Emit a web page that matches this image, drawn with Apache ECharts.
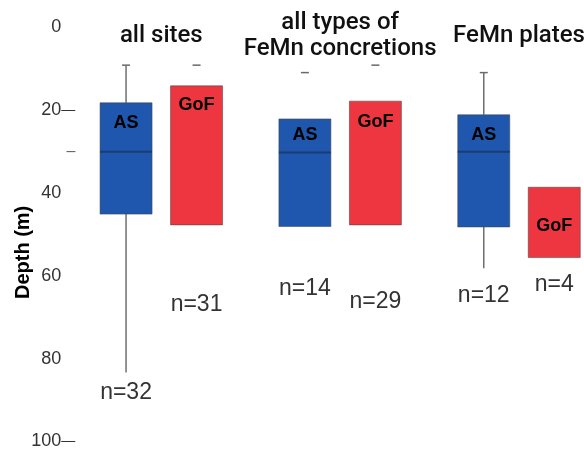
<!DOCTYPE html>
<html><head><meta charset="utf-8">
<script src="https://cdn.jsdelivr.net/npm/echarts@6/dist/echarts.min.js"></script>
<style>html,body{margin:0;padding:0;background:#fff}#c{width:584px;height:451px}</style>
</head><body><div id="c"></div>
<script>
// ---- data ----
const groups = ['all sites', 'all types of\nFeMn concretions', 'FeMn plates'];
const asQ1 = [18.2, 22.1, 21.1];
const asMedian = [30.0, 30.2, 30.0];
const asQ3 = [45.1, 48.1, 48.2];
const asWhiskerTop = [9.1, null, 10.9];
const asWhiskerBottom = [83.4, null, 58.2];
const asCap = [9.1, 10.9, 10.9];
const asN = [32, 14, 12];
const gofQ1 = [14.1, 17.8, 38.6];
const gofMedian = [null, null, null];
const gofQ3 = [47.7, 47.7, 55.6];
const gofWhiskerTop = [null, null, null];
const gofWhiskerBottom = [null, null, null];
const gofCap = [9.1, 9.1, null];
const gofN = [31, 29, 4];
const yTickLabels = ['0', '', '20', '', '40', '', '60', '', '80', '', '100'];
const yTickStep = 10;
const yDashedTicks = [20, 100];
const yMinorTicks = [30];

// ---- layout / style ----
const OFFSET = 35.25, BOXW = 52;
const asLabelDy = [20, 16, 20], gofLabelDy = [19, 21, 39];
const asNDy = [20, 62, 27], gofNDy = [80, 77, 27];
const BLUE = '#1e57ad', RED = '#ee3641';

function rows(q1, med, q3, wt, wb, cap, n) {
  return q1.map((v, i) => [i, v, med[i] == null ? '-' : med[i], q3[i],
    wt[i] == null ? '-' : wt[i], wb[i] == null ? '-' : wb[i], cap[i] == null ? '-' : cap[i], n[i]]);
}

function render(name, color, dx, labelDy, nDy) {
  return function (params, api) {
    const i = api.value(0);
    const cx = api.coord([i, 0])[0] + dx;
    const Y = v => api.coord([i, v])[1];
    const q1 = Y(api.value(1)), q3 = Y(api.value(3));
    const med = api.value(2), wt = api.value(4), wb = api.value(5), cap = api.value(6);
    const ch = [];
    const ln = (x1, y1, x2, y2, c, w) => ch.push({type: 'line', shape: {x1, y1, x2, y2}, style: {stroke: c, lineWidth: w}});
    let lowest = q3;
    if (!isNaN(wt)) ln(cx, Y(wt), cx, q1, '#6f6f6f', 1.5);
    if (!isNaN(wb)) { ln(cx, q3, cx, Y(wb), '#6f6f6f', 1.5); lowest = Y(wb); }
    if (!isNaN(cap)) ln(cx - 4, Y(cap), cx + 4, Y(cap), '#6a6a6a', 1.5);
    ch.push({type: 'rect', shape: {x: cx - BOXW / 2, y: q1, width: BOXW, height: q3 - q1},
      style: {fill: color, stroke: 'rgba(70,70,70,0.55)', lineWidth: 1}});
    if (!isNaN(med)) ln(cx - BOXW / 2, Y(med), cx + BOXW / 2, Y(med), '#1b3c70', 2);
    ch.push({type: 'text', x: cx, y: q1 + labelDy[params.dataIndex], style: {text: name, align: 'center', verticalAlign: 'middle',
      font: 'bold 18px "Liberation Sans", Arial, sans-serif', fill: '#000'}});
    ch.push({type: 'text', x: cx, y: lowest + nDy[params.dataIndex], style: {text: 'n=' + api.value(7), align: 'center', verticalAlign: 'middle',
      font: '23px "Liberation Sans", Arial, sans-serif', fill: '#333'}});
    return {type: 'group', children: ch};
  };
}

const chart = echarts.init(document.getElementById('c'));
chart.setOption({
  animation: false,
  grid: {left: 161.3, right: 65, top: 27.5, bottom: 9.7, outerBoundsMode: 'none', containLabel: false},
  xAxis: {type: 'category', data: groups, boundaryGap: false, position: 'top',
    axisLine: {show: false}, axisTick: {show: false}, splitLine: {show: false},
    axisLabel: {interval: 0, margin: -8.5, verticalAlign: 'middle', lineHeight: 26,
      fontSize: 24, fontWeight: 500, fontFamily: 'Roboto, sans-serif', color: '#111'}},
  yAxis: {type: 'value', inverse: true, min: 0, max: 100, interval: yTickStep, offset: 84,
    axisLine: {show: false}, axisTick: {show: false}, splitLine: {show: false},
    name: 'Depth (m)', nameLocation: 'middle', nameRotate: 90, nameGap: 44, nameMoveOverlap: false,
    nameTextStyle: {fontSize: 20, fontWeight: 'bold', fontFamily: '"Liberation Sans", Arial, sans-serif', color: '#000',
      padding: [0, 36, 0, 0]},
    axisLabel: {margin: 2, fontFamily: '"Liberation Sans", Arial, sans-serif',
      formatter: v => {
        const t = yTickLabels[Math.round(v / yTickStep)];
        if (yMinorTicks.includes(v)) return '{m|–}';
        if (!t) return '';
        return '{v|' + t + '}' + (yDashedTicks.includes(v) ? '{d|—}' : '{h|—}');
      },
      rich: {
        v: {fontSize: 18, color: '#333', fontFamily: '"Liberation Sans", Arial, sans-serif'},
        d: {fontSize: 14, color: '#333', padding: [0, 0, 0, 0]},
        h: {fontSize: 14, color: 'transparent', padding: [0, 0, 0, 0]},
        m: {fontSize: 16, color: '#666'}
      }}},
  series: [
    {type: 'custom', name: 'AS', data: rows(asQ1, asMedian, asQ3, asWhiskerTop, asWhiskerBottom, asCap, asN),
      renderItem: render('AS', BLUE, -OFFSET, asLabelDy, asNDy)},
    {type: 'custom', name: 'GoF', data: rows(gofQ1, gofMedian, gofQ3, gofWhiskerTop, gofWhiskerBottom, gofCap, gofN),
      renderItem: render('GoF', RED, OFFSET, gofLabelDy, gofNDy)}
  ]
});
</script></body></html>
